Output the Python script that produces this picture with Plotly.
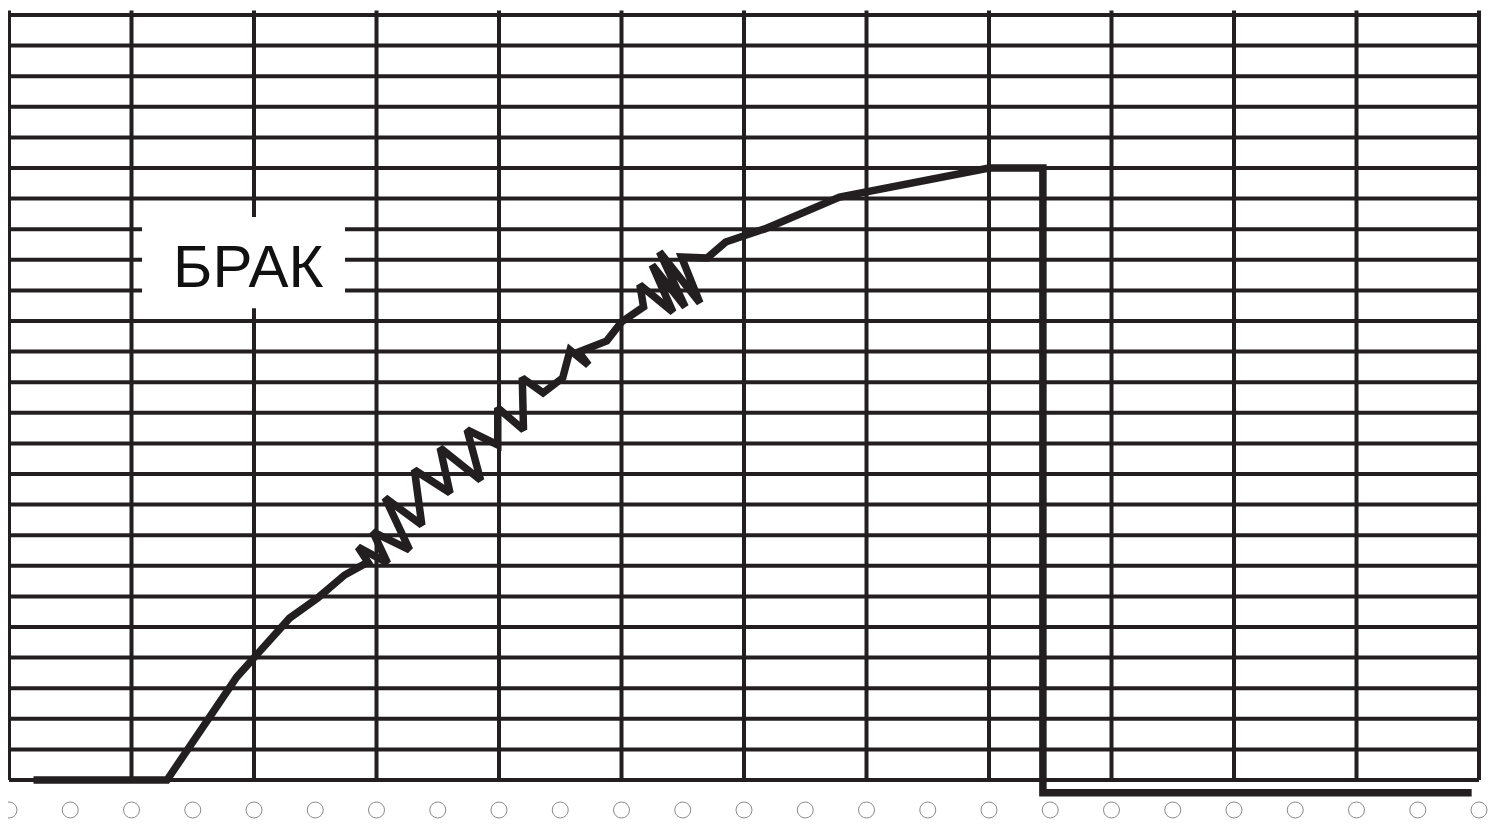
import plotly.graph_objects as go

# ---- data (grid units: 1 column / 1 row) ----
grid_cols = list(range(13))          # vertical grid lines
grid_rows = list(range(26))          # horizontal grid lines
curve_x = [0.20, 1.29, 1.86, 2.29, 2.52, 2.74, 2.93, 2.85, 3.09, 2.97, 3.27, 3.07,
           3.37, 3.31, 3.60, 3.52, 3.85, 3.74, 3.99, 3.99, 4.20, 4.19, 4.36, 4.52,
           4.58, 4.73, 4.65, 4.88, 5.00, 5.18, 5.15, 5.42, 5.25, 5.52, 5.31, 5.64,
           5.49, 5.70, 5.85, 6.17, 6.78, 8.00, 8.44, 8.44, 11.94]
curve_y = [0.00, 0.00, 3.37, 5.29, 5.95, 6.70, 7.12, 7.61, 7.09, 8.11, 7.52, 9.22,
           8.33, 10.13, 9.38, 10.85, 9.80, 11.44, 10.95, 12.16, 11.44, 13.14, 12.65, 13.14,
           14.05, 13.56, 13.99, 14.35, 14.97, 15.46, 16.18, 15.29, 16.83, 15.46, 17.26, 15.59,
           17.09, 17.06, 17.58, 18.01, 19.05, 20.00, 20.00, -0.42, -0.42]
marker_x = [i / 2 for i in range(25)]
marker_y = [-0.98] * 25
label_text = "БРАК"
label_x = 1.95
label_y = 16.78

INK = "#231f20"

fig = go.Figure()

shapes = []
for c in grid_cols:
    shapes.append(dict(type="line", xref="x", yref="y", x0=c, x1=c, y0=0, y1=25.15,
                       line=dict(color=INK, width=4), layer="below"))
for r in grid_rows:
    shapes.append(dict(type="line", xref="x", yref="y", x0=0, x1=12, y0=r, y1=r,
                       line=dict(color=INK, width=4), layer="below"))
# white box behind the label
shapes.append(dict(type="rect", xref="x", yref="y", x0=1.086, x1=2.743, y0=15.42, y1=18.40,
                   fillcolor="white", line=dict(width=0), layer="below"))

fig.add_trace(go.Scatter(x=curve_x, y=curve_y, mode="lines",
                         line=dict(color=INK, width=7.5), hoverinfo="skip",
                         showlegend=False, cliponaxis=False))
fig.add_trace(go.Scatter(x=marker_x, y=marker_y, mode="markers",
                         marker=dict(symbol="circle-open", size=16, color="#8a8a8a",
                                     line=dict(width=1, color="#8a8a8a")),
                         hoverinfo="skip", showlegend=False, cliponaxis=False))

fig.add_annotation(x=label_x, y=label_y, xref="x", yref="y", text=label_text,
                   showarrow=False, font=dict(family="Liberation Sans, Arial, sans-serif",
                                              size=60, color="#111111"))

# page body has an 8px margin: figure spans window px 8..1500 / 8..832
fig.update_layout(
    width=1492, height=824,
    margin=dict(l=0, r=0, t=0, b=0),
    paper_bgcolor="white", plot_bgcolor="white",
    shapes=shapes,
    xaxis=dict(range=[(8 - 9) / 122.5, (1500 - 9) / 122.5], visible=False,
               showgrid=False, zeroline=False),
    yaxis=dict(range=[(780 - 832) / 30.6, (780 - 8) / 30.6], visible=False,
               showgrid=False, zeroline=False),
)

fig.write_html("out.html")
